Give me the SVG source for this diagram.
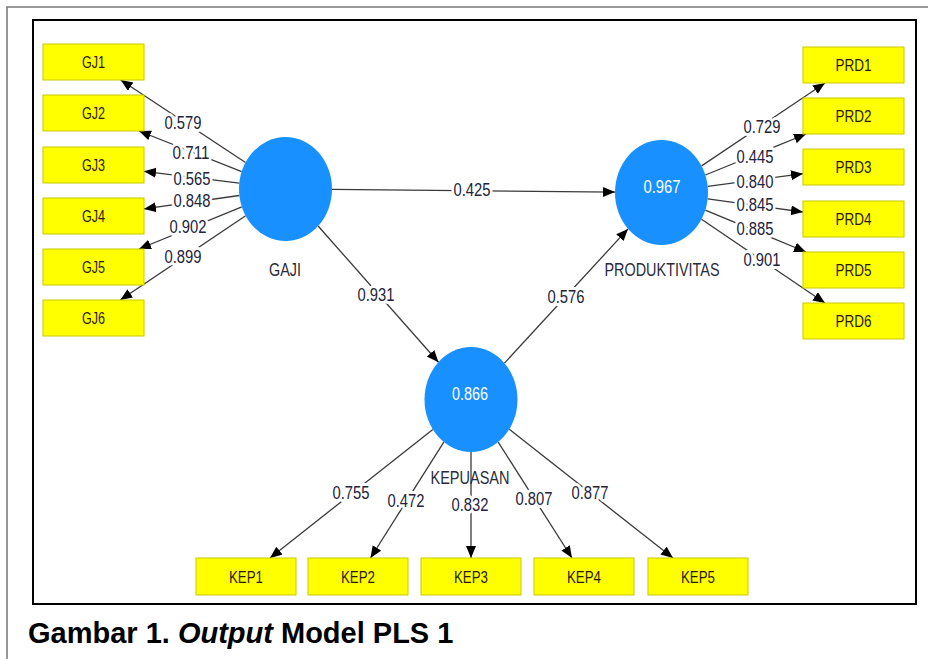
<svg xmlns="http://www.w3.org/2000/svg" width="928" height="659" viewBox="0 0 928 659">
<style>
.box{fill:#ffff00;stroke:#c9c900;stroke-width:1}
.bt{font-family:"Liberation Sans",Arial,sans-serif;font-size:16.5px;fill:#2a1a10;text-anchor:middle}
.lv{fill:#1890ff}
.lt{font-family:"Liberation Sans",Arial,sans-serif;font-size:17.5px;fill:#2b2b3a;text-anchor:middle}
.wt{font-family:"Liberation Sans",Arial,sans-serif;font-size:17.5px;fill:#ffffff;text-anchor:middle}
.ln{stroke:#3a3a3a;stroke-width:1.3;fill:none;marker-end:url(#ah)}
.pl{font-family:"Liberation Sans",Arial,sans-serif;font-size:17.5px;fill:#23233a;text-anchor:middle;stroke:#ffffff;stroke-width:6;stroke-linejoin:round;paint-order:stroke}
.cap{font-family:"Liberation Sans",Arial,sans-serif;font-size:29px;font-weight:bold;fill:#000}
</style>
<defs>
<marker id="ah" markerUnits="userSpaceOnUse" markerWidth="13" markerHeight="11" refX="12" refY="5" orient="auto">
<path d="M0,0 L12,5 L0,10 z" fill="#000"/>
</marker>
</defs>
<rect width="928" height="659" fill="#ffffff"/>
<g id="frame">
<path d="M7,659 L7,7 L928,7" fill="none" stroke="#777" stroke-width="1.5"/>
<rect x="33" y="20" width="883" height="584" fill="none" stroke="#000" stroke-width="2"/>
</g>
<g id="connectors">
<line class="ln" x1="245.5" y1="162.5" x2="120.7" y2="80"/>
<line class="ln" x1="241.7" y1="171.6" x2="139" y2="131"/>
<line class="ln" x1="239.3" y1="183.2" x2="144" y2="171.3"/>
<line class="ln" x1="239.4" y1="195.5" x2="144" y2="208.9"/>
<line class="ln" x1="241.8" y1="206.8" x2="139" y2="249"/>
<line class="ln" x1="245.6" y1="215.8" x2="120.3" y2="300"/>
<line class="ln" x1="701.6" y1="165.9" x2="825" y2="83"/>
<line class="ln" x1="705.4" y1="175" x2="806" y2="134"/>
<line class="ln" x1="707.7" y1="186.4" x2="803" y2="173.7"/>
<line class="ln" x1="707.7" y1="198.9" x2="803" y2="212"/>
<line class="ln" x1="705.3" y1="210.2" x2="806" y2="252"/>
<line class="ln" x1="701.5" y1="219.3" x2="825" y2="303"/>
<line class="ln" x1="432.8" y1="429.5" x2="270" y2="558"/>
<line class="ln" x1="443.8" y1="442.1" x2="370.5" y2="558"/>
<line class="ln" x1="471" y1="452" x2="471" y2="558"/>
<line class="ln" x1="498.2" y1="442.1" x2="572" y2="558"/>
<line class="ln" x1="509.3" y1="429.3" x2="673" y2="558"/>
<line class="ln" x1="332" y1="189.4" x2="615" y2="192.1"/>
<line class="ln" x1="318.1" y1="226" x2="438.5" y2="362.3"/>
<line class="ln" x1="504.5" y1="363.1" x2="628" y2="228.9"/>
<text class="pl" x="183" y="129" textLength="37" lengthAdjust="spacingAndGlyphs">0.579</text>
<text class="pl" x="191" y="159" textLength="37" lengthAdjust="spacingAndGlyphs">0.711</text>
<text class="pl" x="192" y="185" textLength="37" lengthAdjust="spacingAndGlyphs">0.565</text>
<text class="pl" x="192" y="207" textLength="37" lengthAdjust="spacingAndGlyphs">0.848</text>
<text class="pl" x="188" y="233" textLength="37" lengthAdjust="spacingAndGlyphs">0.902</text>
<text class="pl" x="183" y="263" textLength="37" lengthAdjust="spacingAndGlyphs">0.899</text>
<text class="pl" x="762" y="133" textLength="37" lengthAdjust="spacingAndGlyphs">0.729</text>
<text class="pl" x="755" y="163" textLength="37" lengthAdjust="spacingAndGlyphs">0.445</text>
<text class="pl" x="755" y="188" textLength="37" lengthAdjust="spacingAndGlyphs">0.840</text>
<text class="pl" x="755" y="211" textLength="37" lengthAdjust="spacingAndGlyphs">0.845</text>
<text class="pl" x="755" y="235" textLength="37" lengthAdjust="spacingAndGlyphs">0.885</text>
<text class="pl" x="762" y="266" textLength="37" lengthAdjust="spacingAndGlyphs">0.901</text>
<text class="pl" x="351" y="499" textLength="37" lengthAdjust="spacingAndGlyphs">0.755</text>
<text class="pl" x="406" y="507" textLength="37" lengthAdjust="spacingAndGlyphs">0.472</text>
<text class="pl" x="470" y="511" textLength="37" lengthAdjust="spacingAndGlyphs">0.832</text>
<text class="pl" x="534" y="505" textLength="37" lengthAdjust="spacingAndGlyphs">0.807</text>
<text class="pl" x="590" y="499" textLength="37" lengthAdjust="spacingAndGlyphs">0.877</text>
<text class="pl" x="472" y="196" textLength="37" lengthAdjust="spacingAndGlyphs">0.425</text>
<text class="pl" x="376" y="301" textLength="37" lengthAdjust="spacingAndGlyphs">0.931</text>
<text class="pl" x="566" y="303" textLength="37" lengthAdjust="spacingAndGlyphs">0.576</text>
</g>
<g id="GAJI">
<ellipse class="lv" cx="285.5" cy="189" rx="46.5" ry="52"/>
<text class="lt" x="285" y="276" textLength="32" lengthAdjust="spacingAndGlyphs">GAJI</text>
</g>
<g id="PRODUKTIVITAS">
<ellipse class="lv" cx="661.5" cy="192.5" rx="46.5" ry="52.5"/>
<text class="wt" x="662" y="193" textLength="37" lengthAdjust="spacingAndGlyphs">0.967</text>
<text class="lt" x="662" y="276" textLength="115" lengthAdjust="spacingAndGlyphs">PRODUKTIVITAS</text>
</g>
<g id="KEPUASAN">
<ellipse class="lv" cx="471" cy="399.5" rx="46.5" ry="52.5"/>
<text class="wt" x="470" y="400" textLength="36" lengthAdjust="spacingAndGlyphs">0.866</text>
<text class="lt" x="470" y="484" textLength="79" lengthAdjust="spacingAndGlyphs">KEPUASAN</text>
</g>
<g id="GJ1"><rect class="box" x="43" y="44" width="101" height="36"/><text class="bt" x="93.5" y="68" textLength="23" lengthAdjust="spacingAndGlyphs">GJ1</text></g>
<g id="GJ2"><rect class="box" x="43" y="95" width="101" height="36"/><text class="bt" x="93.5" y="119" textLength="23" lengthAdjust="spacingAndGlyphs">GJ2</text></g>
<g id="GJ3"><rect class="box" x="43" y="147" width="101" height="36"/><text class="bt" x="93.5" y="171" textLength="23" lengthAdjust="spacingAndGlyphs">GJ3</text></g>
<g id="GJ4"><rect class="box" x="43" y="198" width="101" height="36"/><text class="bt" x="93.5" y="222" textLength="23" lengthAdjust="spacingAndGlyphs">GJ4</text></g>
<g id="GJ5"><rect class="box" x="43" y="249" width="101" height="36"/><text class="bt" x="93.5" y="273" textLength="23" lengthAdjust="spacingAndGlyphs">GJ5</text></g>
<g id="GJ6"><rect class="box" x="43" y="300" width="101" height="36"/><text class="bt" x="93.5" y="324" textLength="23" lengthAdjust="spacingAndGlyphs">GJ6</text></g>
<g id="PRD1"><rect class="box" x="803" y="47" width="101" height="36"/><text class="bt" x="853.5" y="71" textLength="36" lengthAdjust="spacingAndGlyphs">PRD1</text></g>
<g id="PRD2"><rect class="box" x="803" y="98" width="101" height="36"/><text class="bt" x="853.5" y="122" textLength="36" lengthAdjust="spacingAndGlyphs">PRD2</text></g>
<g id="PRD3"><rect class="box" x="803" y="149" width="101" height="36"/><text class="bt" x="853.5" y="173" textLength="36" lengthAdjust="spacingAndGlyphs">PRD3</text></g>
<g id="PRD4"><rect class="box" x="803" y="201" width="101" height="36"/><text class="bt" x="853.5" y="225" textLength="36" lengthAdjust="spacingAndGlyphs">PRD4</text></g>
<g id="PRD5"><rect class="box" x="803" y="252" width="101" height="36"/><text class="bt" x="853.5" y="276" textLength="36" lengthAdjust="spacingAndGlyphs">PRD5</text></g>
<g id="PRD6"><rect class="box" x="803" y="303" width="101" height="36"/><text class="bt" x="853.5" y="327" textLength="36" lengthAdjust="spacingAndGlyphs">PRD6</text></g>
<g id="KEP1"><rect class="box" x="196" y="558" width="100" height="37"/><text class="bt" x="246" y="583" textLength="34" lengthAdjust="spacingAndGlyphs">KEP1</text></g>
<g id="KEP2"><rect class="box" x="308" y="558" width="100" height="37"/><text class="bt" x="358" y="583" textLength="34" lengthAdjust="spacingAndGlyphs">KEP2</text></g>
<g id="KEP3"><rect class="box" x="421" y="558" width="100" height="37"/><text class="bt" x="471" y="583" textLength="34" lengthAdjust="spacingAndGlyphs">KEP3</text></g>
<g id="KEP4"><rect class="box" x="534" y="558" width="100" height="37"/><text class="bt" x="584" y="583" textLength="34" lengthAdjust="spacingAndGlyphs">KEP4</text></g>
<g id="KEP5"><rect class="box" x="648" y="558" width="100" height="37"/><text class="bt" x="698" y="583" textLength="34" lengthAdjust="spacingAndGlyphs">KEP5</text></g>
<g id="caption">
<text class="cap" x="28" y="643">Gambar 1. <tspan font-style="italic">Output</tspan> Model PLS 1</text>
</g>
</svg>
